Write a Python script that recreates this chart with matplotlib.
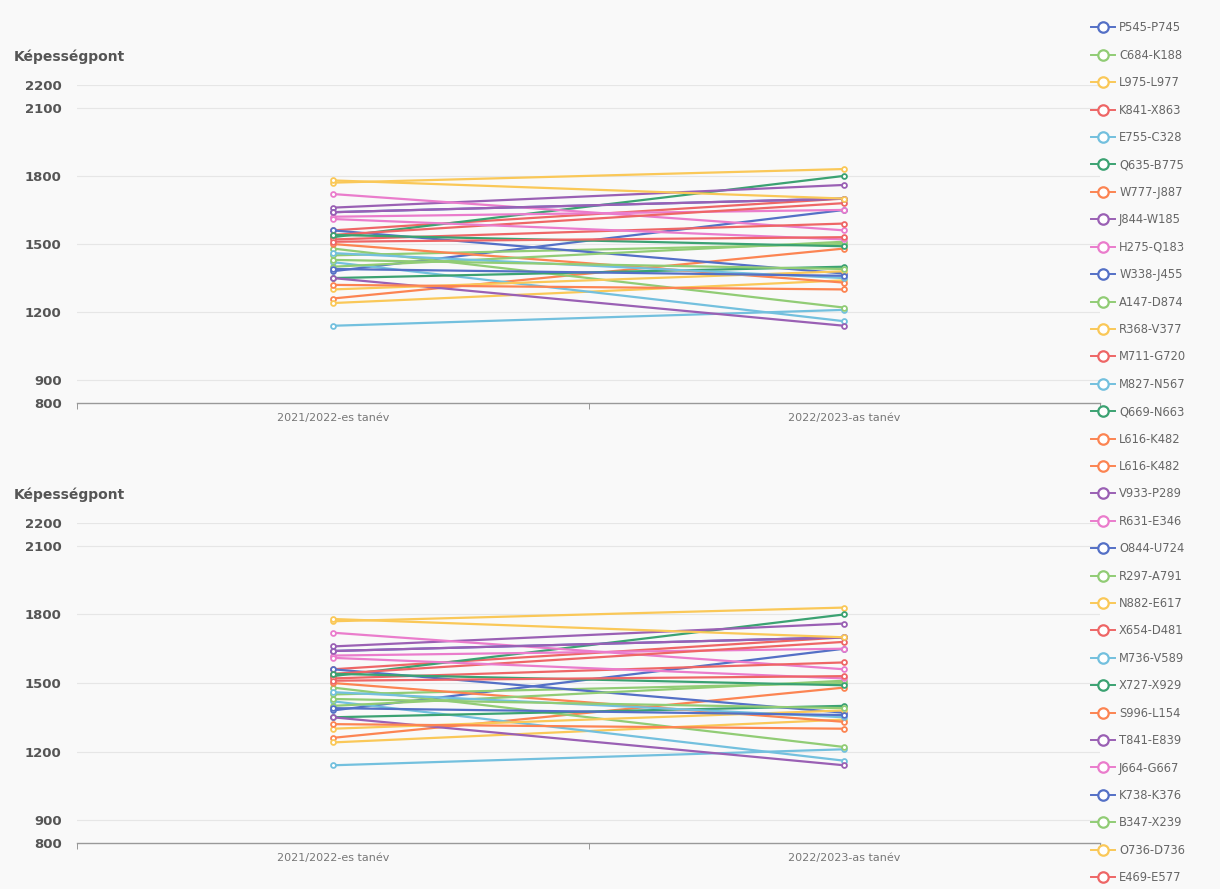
import matplotlib
matplotlib.use("Agg")
import matplotlib.pyplot as plt
from matplotlib.lines import Line2D

# tanév kategóriák
categories = ["2021/2022-es tanév", "2022/2023-as tanév"]

names = ["P545-P745", "C684-K188", "L975-L977", "K841-X863", "E755-C328",
         "Q635-B775", "W777-J887", "J844-W185", "H275-Q183", "W338-J455",
         "A147-D874", "R368-V377", "M711-G720", "M827-N567", "Q669-N663",
         "L616-K482", "V933-P289", "R631-E346", "O844-U724", "R297-A791",
         "N882-E617", "X654-D481", "M736-V589", "X727-X929", "S996-L154",
         "T841-E839", "J664-G667", "K738-K376", "B347-X239", "O736-D736",
         "E469-E577"]

# képességpont 2021/2022
y2022 = [1380, 1450, 1770, 1560, 1140, 1530, 1260, 1660, 1720, 1640,
         1480, 1240, 1520, 1420, 1350, 1500, 1350, 1620, 1560, 1400,
         1300, 1540, 1460, 1540, 1320, 1640, 1610, 1390, 1430, 1780,
         1510]
# képességpont 2022/2023
y2023 = [1650, 1500, 1830, 1700, 1210, 1800, 1480, 1760, 1560, 1700,
         1220, 1340, 1590, 1160, 1400, 1330, 1140, 1650, 1370, 1510,
         1380, 1680, 1350, 1490, 1300, 1700, 1520, 1360, 1390, 1700,
         1530]

# a legendában a L616-K482 kétszer szerepel
legend_names = names[:16] + ["L616-K482"] + names[16:]
legend_colors_idx = list(range(16)) + [15] + list(range(16, 31))

palette = ["#5470c6", "#91cc75", "#fac858", "#ee6666", "#73c0de",
           "#3ba272", "#fc8452", "#9a60b4", "#ea7ccc"]
yticks = [800, 900, 1200, 1500, 1800, 2100, 2200]

bg = "#f9f9f9"
fig = plt.figure(figsize=(12.2, 8.89), dpi=100, facecolor=bg)

W, H = 1220.0, 889.0
panels = [(85, 403), (523, 843)]
for top, bot in panels:
    ax = fig.add_axes([77 / W, 1 - bot / H, 1023 / W, (bot - top) / H])
    ax.set_facecolor(bg)
    x = list(range(len(categories)))
    for i, nm in enumerate(names):
        ax.plot(x, [y2022[i], y2023[i]], color=palette[i % 9], lw=1.6,
                marker="o", ms=3.5, mfc="white", mew=1.3, zorder=3)
    ax.set_xlim(-0.5, 1.5)
    ax.set_ylim(800, 2200)
    ax.set_yticks(yticks)
    ax.set_yticklabels([str(t) for t in yticks], fontsize=9.5,
                       color="#555555", fontweight="semibold")
    for t in yticks[1:]:
        ax.axhline(t, color="#e6e6e6", lw=0.8, zorder=0)
    ax.tick_params(axis="y", length=0, pad=11)
    ax.set_xticks(x)
    ax.set_xticklabels(categories, fontsize=8, color="#777777")
    ax.set_xticks([-0.5, 0.5, 1.5], minor=True)
    ax.tick_params(axis="x", which="major", length=0, pad=7)
    ax.tick_params(axis="x", which="minor", length=4, color="#888888")
    for s in ["top", "right", "left"]:
        ax.spines[s].set_visible(False)
    ax.spines["bottom"].set_color("#999999")
    ax.spines["bottom"].set_linewidth(1)
    fig.text(14 / W, 1 - (top - 28) / H, "Képességpont", fontsize=10,
             color="#555555", fontweight="bold", va="center")

handles = [Line2D([0], [0], color=palette[c % 9], lw=1.4, marker="o", ms=7.5,
                  mfc="white", mew=1.6) for c in legend_colors_idx]
leg = fig.legend(handles, legend_names, loc="upper left",
                 bbox_to_anchor=(1088 / W, 1 - 18 / H), frameon=False,
                 fontsize=8.3, labelspacing=1.25, handlelength=2.0,
                 handletextpad=0.4, borderpad=0.3, borderaxespad=0)
for t in leg.get_texts():
    t.set_color("#666666")

fig.savefig("out.png", dpi=100, facecolor=bg)
